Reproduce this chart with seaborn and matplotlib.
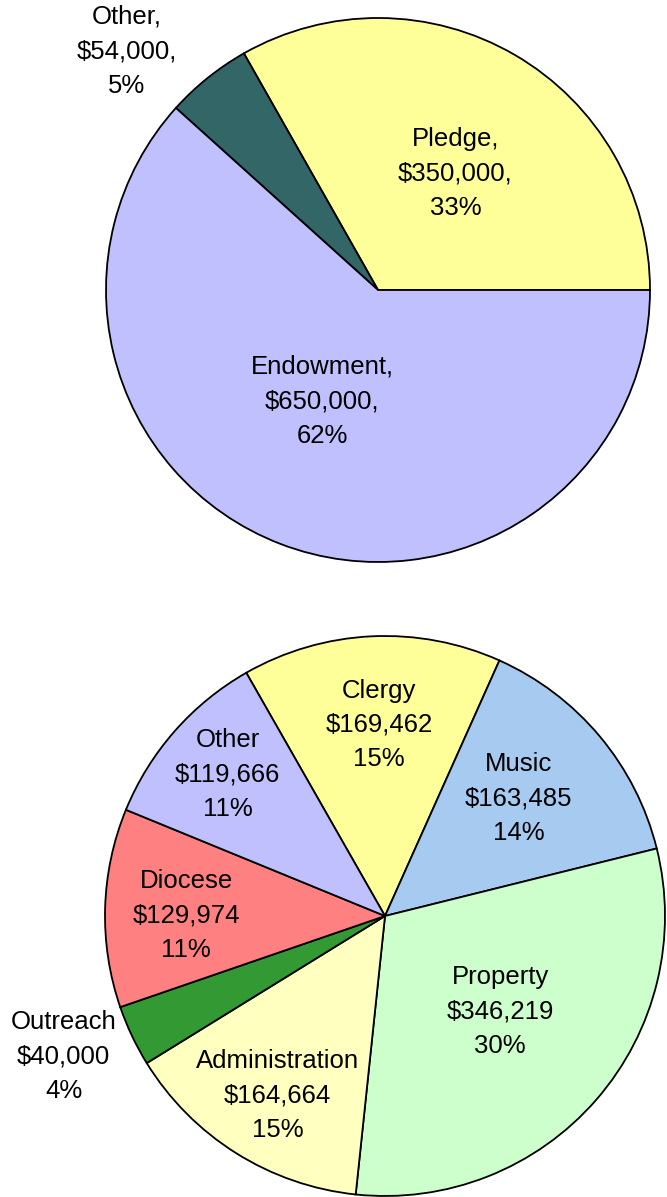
import numpy as np
import seaborn as sns
import matplotlib.pyplot as plt

sns.set_theme(style="white")
plt.rcParams['font.family'] = ['Liberation Sans', 'DejaVu Sans']

# income pie
inc_names = ["Pledge", "Other", "Endowment"]
inc_values = [350000, 54000, 650000]
inc_pct = ["33%", "5%", "62%"]
inc_colors = ["#FFFF99", "#336666", "#C0C0FF"]
# label placement: distance from centre and angle nudge (deg)
inc_dist = [0.52, 1.28, 0.45]
inc_nudge = [-3, 7.5, -6]

# expense pie
exp_names = ["Clergy", "Music", "Property", "Administration", "Outreach", "Diocese", "Other"]
exp_values = [169462, 163485, 346219, 164664, 40000, 129974, 119666]
exp_pct = ["15%", "14%", "30%", "15%", "4%", "11%", "11%"]
exp_colors = ["#FFFF99", "#A6CAF0", "#CCFFCC", "#FFFFC0", "#339933", "#FF8080", "#C0C0FF"]
exp_dist = [0.69, 0.64, 0.53, 0.74, 1.25, 0.71, 0.76]
exp_nudge = [-1, 2, 2, 1, -2, 1, -1]

W, H = 667, 1197
fig = plt.figure(figsize=(W / 100, H / 100), dpi=100)


def draw_pie(cx, cy, r, values, colors, labels, dists, nudges, start, ccw):
    ax = fig.add_axes([(cx - r) / W, (H - cy - r) / H, 2 * r / W, 2 * r / H])
    wedges, _ = ax.pie(values, colors=colors, startangle=start, counterclock=ccw,
                       radius=1, wedgeprops=dict(edgecolor="black", linewidth=1.3))
    for w, lab, d, n in zip(wedges, labels, dists, nudges):
        mid = np.deg2rad((w.theta1 + w.theta2) / 2 + n)
        ax.annotate(lab, (d * np.cos(mid), d * np.sin(mid)), xytext=(0, -1.5),
                    textcoords="offset points", ha="center", va="center",
                    fontsize=18.5, linespacing=1.55, color="black",
                    annotation_clip=False)
    ax.set_xlim(-1, 1)
    ax.set_ylim(-1, 1)
    ax.set_aspect("equal")
    ax.axis("off")
    return ax


inc_labels = [f"{n},\n${v:,},\n{p}" for n, v, p in zip(inc_names, inc_values, inc_pct)]
draw_pie(378, 290, 272, inc_values, inc_colors, inc_labels, inc_dist, inc_nudge, 0, True)

exp_labels = [f"{n}\n${v:,}\n{p}" for n, v, p in zip(exp_names, exp_values, exp_pct)]
draw_pie(385, 916, 280, exp_values, exp_colors, exp_labels, exp_dist, exp_nudge, 119.7, False)

fig.savefig("out.png", dpi=100)
